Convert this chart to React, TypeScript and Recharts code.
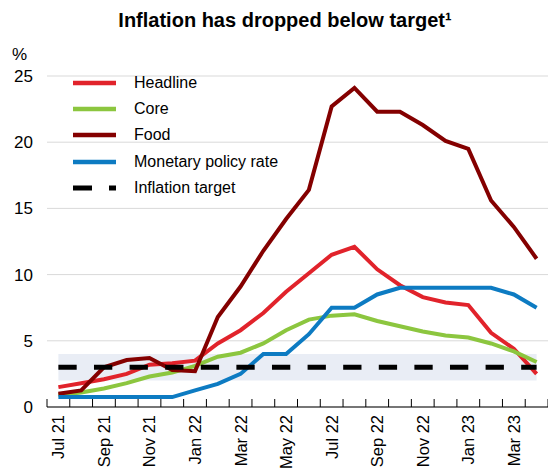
import {
  CartesianGrid,
  ComposedChart,
  Line,
  ReferenceArea,
  XAxis,
  YAxis
} from "recharts";

const months = [
  "Jul 21", "Aug 21", "Sep 21", "Oct 21", "Nov 21", "Dec 21",
  "Jan 22", "Feb 22", "Mar 22", "Apr 22", "May 22", "Jun 22",
  "Jul 22", "Aug 22", "Sep 22", "Oct 22", "Nov 22", "Dec 22",
  "Jan 23", "Feb 23", "Mar 23", "Apr 23"
];
const headline = [1.5, 1.8, 2.1, 2.5, 3.2, 3.3, 3.5, 4.8, 5.8, 7.1, 8.7, 10.1, 11.5, 12.1, 10.4, 9.2, 8.3, 7.9, 7.7, 5.6, 4.4, 2.5];
const core = [0.9, 1.1, 1.4, 1.8, 2.3, 2.6, 3.1, 3.8, 4.1, 4.8, 5.8, 6.6, 6.9, 7.0, 6.5, 6.1, 5.7, 5.4, 5.25, 4.8, 4.2, 3.4];
const food = [1.0, 1.25, 3.0, 3.55, 3.7, 2.8, 2.7, 6.8, 9.1, 11.8, 14.2, 16.4, 22.7, 24.1, 22.3, 22.3, 21.3, 20.1, 19.5, 15.6, 13.6, 11.2];
const policyRate = [0.75, 0.75, 0.75, 0.75, 0.75, 0.75, 1.25, 1.75, 2.5, 4.0, 4.0, 5.5, 7.5, 7.5, 8.5, 9.0, 9.0, 9.0, 9.0, 9.0, 8.5, 7.5];
const inflationTarget = 3;
const targetBand = [2, 4];
const yTicks = [0, 5, 10, 15, 20, 25];

const data = months.map((m, i) => ({
  month: m,
  headline: headline[i],
  core: core[i],
  food: food[i],
  policyRate: policyRate[i],
  target: inflationTarget
}));

const FONT = "'Liberation Sans', Arial, sans-serif";
const W = 548;
const H = 470;
const PLOT_LEFT = 47;
const BAND = (W - PLOT_LEFT) / months.length;

const series = [
  { key: "headline", name: "Headline", color: "#e1232b" },
  { key: "core", name: "Core", color: "#8cc63f" },
  { key: "food", name: "Food", color: "#840000" },
  { key: "policyRate", name: "Monetary policy rate", color: "#0d7bc2" }
];

function XTick(props: any) {
  const { x, y, payload, index } = props;
  const left = x - BAND / 2;
  return (
    <g>
      <line x1={left} x2={left} y1={y - 8} y2={y} stroke="#000" strokeWidth={1} />
      {index === months.length - 1 && (
        <line x1={x + BAND / 2} x2={x + BAND / 2} y1={y - 8} y2={y} stroke="#000" strokeWidth={1} />
      )}
      {index % 2 === 0 && (
        <text
          transform={`translate(${x},${y + 8}) rotate(-90)`}
          textAnchor="end"
          dominantBaseline="central"
          fontSize={16.5}
          fontFamily={FONT}
          fill="#000"
        >
          {payload.value}
        </text>
      )}
    </g>
  );
}

function LegendBox() {
  return (
    <div
      style={{
        position: "absolute",
        top: 70,
        left: 73,
        fontFamily: FONT,
        fontSize: 16,
        color: "#000"
      }}
    >
      {series.map((s) => (
        <div key={s.key} style={{ display: "flex", alignItems: "center", height: 26.2 }}>
          <svg width={61} height={10}>
            <line x1={0} x2={43} y1={5} y2={5} stroke={s.color} strokeWidth={4.5} />
          </svg>
          <span>{s.name}</span>
        </div>
      ))}
      <div style={{ display: "flex", alignItems: "center", height: 26.2 }}>
        <svg width={61} height={10}>
          <line x1={0} x2={43} y1={5} y2={5} stroke="#000" strokeWidth={5} strokeDasharray="19 17" />
        </svg>
        <span>Inflation target</span>
      </div>
    </div>
  );
}

export default function App() {
  return (
    <div style={{ position: "absolute", left: 0, top: 0, width: W, height: H, background: "#fff" }}>
      <div
        style={{
          position: "absolute",
          top: 9,
          left: 0,
          width: 570,
          textAlign: "center",
          fontFamily: FONT,
          fontWeight: "bold",
          fontSize: 20
        }}
      >
        Inflation has dropped below target¹
      </div>
      <div style={{ position: "absolute", top: 45, left: 12, fontFamily: FONT, fontSize: 17 }}>%</div>
      <ComposedChart
        width={W}
        height={H}
        data={data}
        margin={{ top: 76, right: 0, left: 1, bottom: 8 }}
      >
        <CartesianGrid vertical={false} stroke="#d9d9d9" />
        <ReferenceArea y1={targetBand[0]} y2={targetBand[1]} fill="#e9edf5" fillOpacity={1} stroke="none" />
        <XAxis
          dataKey="month"
          scale="point"
          padding={{ left: BAND / 2, right: BAND / 2 }}
          interval={0}
          tickSize={0}
          tickMargin={0}
          height={55}
          tickLine={false}
          axisLine={{ stroke: "#000" }}
          tick={<XTick />}
        />
        <YAxis
          domain={[0, 25]}
          ticks={yTicks}
          width={46}
          axisLine={false}
          tickLine={false}
          tickMargin={8}
          tick={{ fontSize: 17, fontFamily: FONT, fill: "#000" }}
        />
        {series.map((s) => (
          <Line
            key={s.key}
            type="linear"
            dataKey={s.key}
            name={s.name}
            stroke={s.color}
            strokeWidth={4}
            dot={false}
            activeDot={false}
            isAnimationActive={false}
          />
        ))}
        <Line
          type="linear"
          dataKey="target"
          name="Inflation target"
          stroke="#000"
          strokeWidth={5}
          strokeDasharray="18.3 17.3"
          dot={false}
          activeDot={false}
          isAnimationActive={false}
        />
      </ComposedChart>
      <LegendBox />
    </div>
  );
}
